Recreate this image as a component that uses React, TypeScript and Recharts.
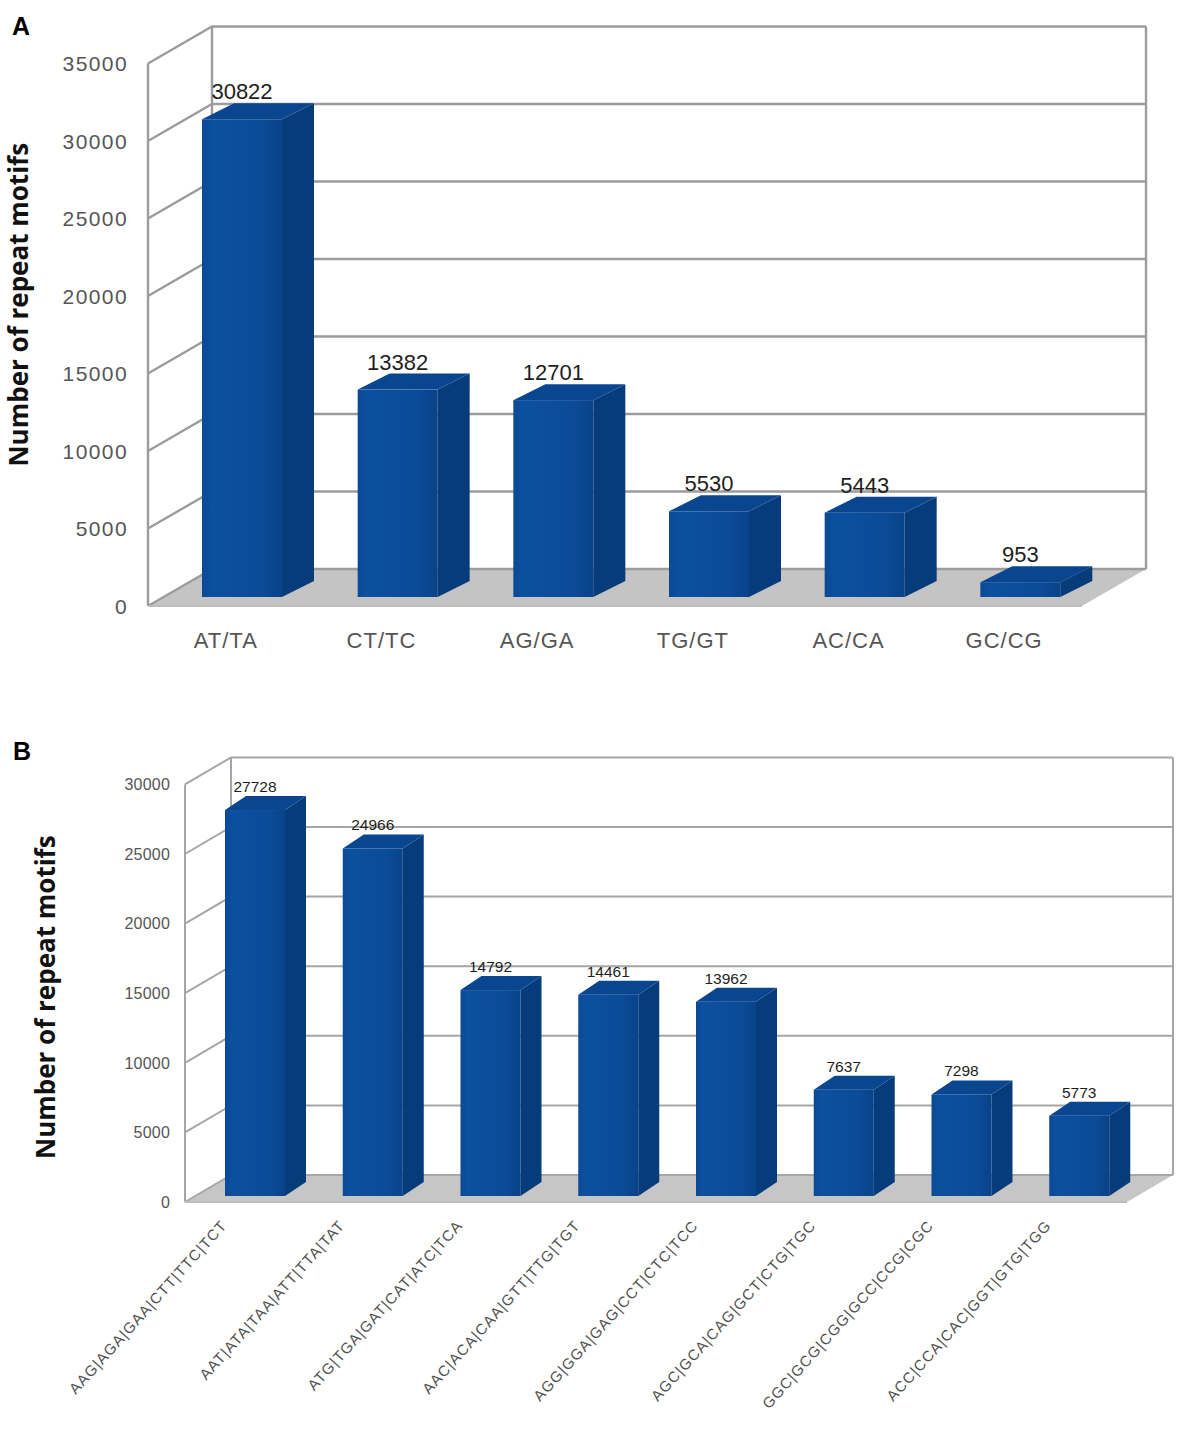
import React from "react";
import { BarChart, Bar, XAxis, YAxis, CartesianGrid, LabelList } from "recharts";

// panel A: dinucleotide repeats
const motifsA = ["AT/TA", "CT/TC", "AG/GA", "TG/GT", "AC/CA", "GC/CG"];
const countsA = [30822, 13382, 12701, 5530, 5443, 953];
const ticksA = [0, 5000, 10000, 15000, 20000, 25000, 30000, 35000];

// panel B: trinucleotide repeats
const motifsB = [
  "AAG|AGA|GAA|CTT|TTC|TCT",
  "AAT|ATA|TAA|ATT|TTA|TAT",
  "ATG|TGA|GAT|CAT|ATC|TCA",
  "AAC|ACA|CAA|GTT|TTG|TGT",
  "AGG|GGA|GAG|CCT|CTC|TCC",
  "AGC|GCA|CAG|GCT|CTG|TGC",
  "GGC|GCG|CGG|GCC|CCG|CGC",
  "ACC|CCA|CAC|GGT|GTG|TGG",
];
const countsB = [27728, 24966, 14792, 14461, 13962, 7637, 7298, 5773];
const ticksB = [0, 5000, 10000, 15000, 20000, 25000, 30000];

const dataA = motifsA.map((motif, i) => ({ motif, count: countsA[i] }));
const dataB = motifsB.map((motif, i) => ({ motif, count: countsB[i] }));

const FONT = "'Liberation Sans', Arial, sans-serif";
const TITLE_FONT = "'Open Sans', 'Noto Sans', sans-serif";

interface Look {
  id: string;
  wall: [number, number]; // depth of the back wall
  shift: [number, number]; // where the bar front sits in depth
  depth: [number, number]; // bar thickness
  grid: string;
  gridWidth: number;
  floor: string;
  valueSize: number;
}

const lookA: Look = {
  id: "a",
  wall: [64, -37],
  shift: [16, -9],
  depth: [32, -16],
  grid: "#9c9c9c",
  gridWidth: 2.4,
  floor: "#c4c4c4",
  valueSize: 22,
};

const lookB: Look = {
  id: "b",
  wall: [46, -27],
  shift: [11, -6],
  depth: [21, -14],
  grid: "#a6a6a6",
  gridWidth: 2,
  floor: "#c6c6c6",
  valueSize: 15.5,
};

function gridLines(look: Look) {
  return (props: any) => {
    const { x1, x2, y1, y, height } = props;
    const [dx, dy] = look.wall;
    const top = y;
    const bottom = y + height;
    const line = { stroke: look.grid, strokeWidth: look.gridWidth, fill: "none" };
    if (Math.abs(y1 - bottom) < 1) {
      return (
        <g key={props.key}>
          <polygon
            points={`${x1},${bottom} ${x2},${bottom} ${x2 + dx},${bottom + dy} ${x1 + dx},${bottom + dy}`}
            fill={look.floor}
          />
          <line x1={x1} y1={top} x2={x1} y2={bottom} {...line} />
          <line x1={x1} y1={bottom} x2={x1 + dx} y2={bottom + dy} {...line} />
          <line x1={x1 + dx} y1={top + dy} x2={x1 + dx} y2={bottom + dy} {...line} />
          <line x1={x2 + dx} y1={top + dy} x2={x2 + dx} y2={bottom + dy} {...line} />
          <line x1={x1 + dx} y1={bottom + dy} x2={x2 + dx} y2={bottom + dy} {...line} />
          <line x1={x1} y1={bottom} x2={x2} y2={bottom} stroke="#bdbdbd" strokeWidth={2} />
        </g>
      );
    }
    return (
      <polyline
        key={props.key}
        points={`${x1},${y1} ${x1 + dx},${y1 + dy} ${x2 + dx},${y1 + dy}`}
        {...line}
      />
    );
  };
}

function bar3d(look: Look) {
  return (props: any) => {
    const { x, y, width, height, index } = props;
    if (!height || height <= 0) return <g />;
    const X = x + look.shift[0];
    const Y = y + look.shift[1];
    const [bx, by] = look.depth;
    const gid = `front-${look.id}-${index}`;
    return (
      <g>
        <defs>
          <linearGradient id={gid} x1="0" y1="0" x2="1" y2="0">
            <stop offset="0%" stopColor="#0b4994" />
            <stop offset="12%" stopColor="#0c50a0" />
            <stop offset="75%" stopColor="#0b4b98" />
            <stop offset="100%" stopColor="#094288" />
          </linearGradient>
        </defs>
        <polygon
          points={`${X + width},${Y} ${X + width + bx},${Y + by} ${X + width + bx},${Y + height + by} ${X + width},${Y + height}`}
          fill="#073c7b"
        />
        <polygon
          points={`${X},${Y} ${X + bx},${Y + by} ${X + width + bx},${Y + by} ${X + width},${Y}`}
          fill="#0a468f"
        />
        <rect x={X} y={Y} width={width} height={height} fill={`url(#${gid})`} />
      </g>
    );
  };
}

function valueLabel(look: Look) {
  return (props: any) => {
    const { x, y, width, value } = props;
    return (
      <text
        x={x + look.shift[0] + width / 2}
        y={y + look.shift[1] + look.depth[1] - 4}
        textAnchor="middle"
        fontFamily={FONT}
        fontSize={look.valueSize}
        fill="#1e1e1e"
      >
        {value}
      </text>
    );
  };
}

function yTick(size: number, spacing: number) {
  return (props: any) => {
    const { x, y, payload } = props;
    return (
      <text
        x={x}
        y={y}
        dy="0.36em"
        textAnchor="end"
        fontFamily={FONT}
        fontSize={size}
        letterSpacing={spacing}
        fill="#555"
      >
        {payload.value}
      </text>
    );
  };
}

const xTickA = (props: any) => {
  const { x, y, payload } = props;
  return (
    <text
      x={x}
      y={y + 42}
      textAnchor="middle"
      fontFamily={FONT}
      fontSize={22}
      letterSpacing={1}
      fill="#555"
    >
      {payload.value}
    </text>
  );
};

const xTickB = (props: any) => {
  const { x, y, payload } = props;
  const ax = x - 16;
  const ay = y + 24;
  return (
    <text
      x={ax}
      y={ay}
      transform={`rotate(-48 ${ax} ${ay})`}
      textAnchor="end"
      fontFamily={FONT}
      fontSize={15}
      letterSpacing={1.1}
      fill="#505050"
    >
      {payload.value}
    </text>
  );
};

function axisTitle(dx: number, dy: number) {
  return (props: any) => {
    const { viewBox } = props;
    const cx = viewBox.x + dx;
    const cy = viewBox.y + viewBox.height / 2 + dy;
    return (
      <text
        x={cx}
        y={cy}
        transform={`rotate(-90 ${cx} ${cy})`}
        textAnchor="middle"
        dominantBaseline="central"
        fontFamily={TITLE_FONT}
        fontWeight={700}
        fontSize={26}
        fill="#111"
      >
        Number of repeat motifs
      </text>
    );
  };
}

export default function App() {
  return (
    <div
      style={{
        position: "absolute",
        left: 0,
        top: 0,
        width: 1181,
        height: 1436,
        background: "#fff",
      }}
    >
      <div style={{ position: "absolute", left: 0, top: 0 }}>
        <BarChart
          width={1181}
          height={700}
          data={dataA}
          margin={{ top: 63.5, right: 99, bottom: 54, left: 88 }}
          barSize={80}
        >
          <CartesianGrid vertical={false} horizontal={gridLines(lookA)} />
          <XAxis
            dataKey="motif"
            height={40}
            axisLine={false}
            tickLine={false}
            tickSize={0}
            tickMargin={0}
            interval={0}
            tick={xTickA}
          />
          <YAxis
            width={60}
            domain={[0, 35000]}
            ticks={ticksA}
            axisLine={false}
            tickLine={false}
            tickSize={0}
            tickMargin={20}
            tick={yTick(21, 1.4)}
            label={{ content: axisTitle(-70, -30) }}
          />
          <Bar dataKey="count" shape={bar3d(lookA)} isAnimationActive={false}>
            <LabelList dataKey="count" content={valueLabel(lookA)} />
          </Bar>
          <text x={12} y={35} fontFamily={FONT} fontWeight={700} fontSize={25} fill="#000">
            A
          </text>
        </BarChart>
      </div>
      <div style={{ position: "absolute", left: 0, top: 700 }}>
        <BarChart
          width={1181}
          height={736}
          data={dataB}
          margin={{ top: 84.4, right: 54, bottom: 34, left: 125 }}
          barSize={60}
        >
          <CartesianGrid vertical={false} horizontal={gridLines(lookB)} />
          <XAxis
            dataKey="motif"
            height={200}
            axisLine={false}
            tickLine={false}
            tickSize={0}
            tickMargin={0}
            interval={0}
            tick={xTickB}
          />
          <YAxis
            width={60}
            domain={[0, 30000]}
            ticks={ticksB}
            axisLine={false}
            tickLine={false}
            tickSize={0}
            tickMargin={15}
            tick={yTick(16, 0.2)}
            label={{ content: axisTitle(-80, 4) }}
          />
          <Bar dataKey="count" shape={bar3d(lookB)} isAnimationActive={false}>
            <LabelList dataKey="count" content={valueLabel(lookB)} />
          </Bar>
          <text x={13} y={60} fontFamily={FONT} fontWeight={700} fontSize={25} fill="#000">
            B
          </text>
        </BarChart>
      </div>
    </div>
  );
}
